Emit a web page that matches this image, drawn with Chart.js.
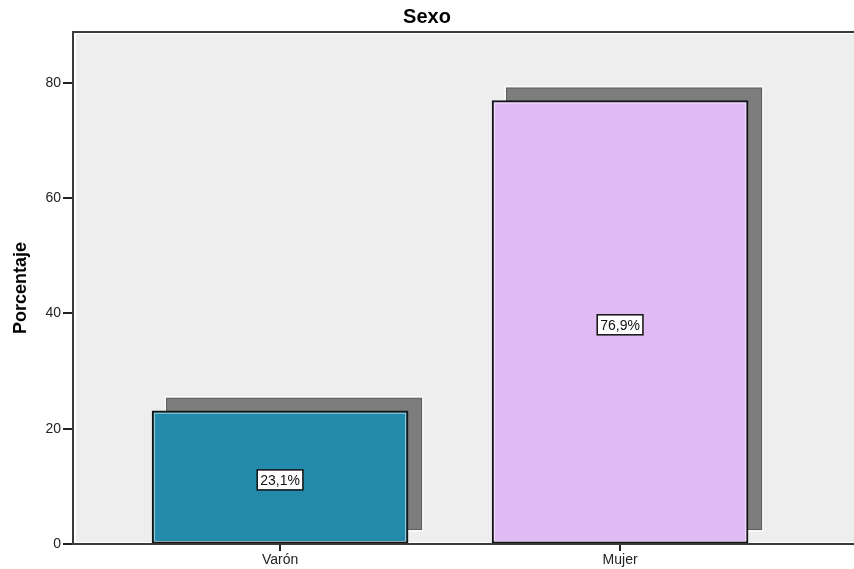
<!DOCTYPE html>
<html>
<head>
<meta charset="utf-8">
<script src="https://cdn.jsdelivr.net/npm/chart.js@4/dist/chart.umd.min.js"></script>
<style>
  html, body { margin: 0; padding: 0; background: #ffffff; overflow: hidden; }
  #wrap { width: 854px; height: 569px; }
</style>
</head>
<body>
<div id="wrap"><canvas id="sexoChart" width="854" height="569"></canvas></div>
<script>
// datos
const categories = ["Varón", "Mujer"];
const percentages = [23.1, 76.9];
const pctLabels = ["23,1%", "76,9%"];
const yTicks = [0, 20, 40, 60, 80];
const barColors = ["#248aab", "#dfbaf3"];

const FONT = "'Liberation Sans', Arial, sans-serif";

// fondo gris del area y borde superior
const plotBg = {
    id: 'plotBg',
    beforeDraw(chart) {
        const { ctx, chartArea: a } = chart;
        ctx.save();
        ctx.fillStyle = "#eeeeee";
        ctx.fillRect(a.left + 3, a.top + 2, a.right - a.left - 3, a.bottom - a.top - 4);
        ctx.strokeStyle = "#3a3a3a";
        ctx.lineWidth = 2;
        ctx.beginPath();
        ctx.moveTo(a.left, a.top);
        ctx.lineTo(a.right, a.top);
        ctx.stroke();
        ctx.restore();
    },
    afterDraw(chart) {
        // marcas del eje x
        const { ctx, chartArea: a } = chart;
        const xs = chart.scales.x;
        ctx.save();
        ctx.strokeStyle = "#222222";
        ctx.lineWidth = 2;
        categories.forEach((c, i) => {
            const px = Math.round(xs.getPixelForValue(i + 1));
            ctx.beginPath();
            ctx.moveTo(px, a.bottom + 1);
            ctx.lineTo(px, a.bottom + 7);
            ctx.stroke();
        });
        ctx.restore();
    }
};

// sombra gris detras de cada barra
const barShadow = {
    id: 'barShadow',
    beforeDatasetsDraw(chart) {
        const { ctx } = chart;
        chart.getDatasetMeta(0).data.forEach(bar => {
            const w = bar.width;
            const x0 = bar.x - w / 2 + 14;
            const y0 = bar.y - 13;
            const h = bar.base - 13 - y0;
            ctx.save();
            ctx.fillStyle = "#7d7d7d";
            ctx.fillRect(x0, y0, w, h);
            ctx.strokeStyle = "#fafafa";
            ctx.lineWidth = 1.5;
            ctx.strokeRect(x0 - 1, y0 - 1, w + 2, h + 2);
            ctx.strokeStyle = "#5e5e5e";
            ctx.lineWidth = 1;
            ctx.strokeRect(x0 + 0.5, y0 + 0.5, w - 1, h - 1);
            ctx.restore();
        });
    },
    afterDatasetsDraw(chart) {
        const { ctx } = chart;
        chart.getDatasetMeta(0).data.forEach((bar, i) => {
            const w = bar.width;
            ctx.save();
            // linea clara interior
            ctx.strokeStyle = "rgba(255,255,255,0.55)";
            ctx.lineWidth = 1;
            ctx.strokeRect(bar.x - w / 2 + 2.5, bar.y + 2.5, w - 5, bar.base - bar.y - 4);
            // etiqueta
            const cy = (bar.y + bar.base) / 2 + 3;
            ctx.font = "14px " + FONT;
            const tw = ctx.measureText(pctLabels[i]).width;
            const bw = tw + 6, bh = 20;
            ctx.fillStyle = "#ffffff";
            ctx.fillRect(bar.x - bw / 2, cy - bh / 2, bw, bh);
            ctx.strokeStyle = "#111111";
            ctx.lineWidth = 1.5;
            ctx.strokeRect(bar.x - bw / 2, cy - bh / 2, bw, bh);
            ctx.fillStyle = "#111111";
            ctx.textAlign = "center";
            ctx.textBaseline = "middle";
            ctx.fillText(pctLabels[i], bar.x, cy + 1);
            ctx.restore();
        });
    }
};

const ctx = document.getElementById("sexoChart");

new Chart(ctx, {
    type: "bar",
    data: {
        labels: categories,
        datasets: [{
            label: "Porcentaje",
            data: percentages.map((v, i) => ({ x: i + 1, y: v })),
            backgroundColor: barColors,
            borderColor: "#151515",
            borderWidth: 2,
            borderSkipped: false,
            barThickness: 256
        }]
    },
    options: {
        responsive: false,
        animation: false,
        layout: { padding: { left: 0, right: 0, top: 0, bottom: 0 } },
        plugins: {
            legend: { display: false },
            tooltip: { enabled: false },
            title: {
                display: true,
                text: "Sexo",
                color: "#000000",
                font: { family: FONT, size: 20, weight: "bold" },
                padding: { top: 5, bottom: 3 }
            }
        },
        scales: {
            x: {
                type: "linear",
                offset: false,
                min: 0.391,
                max: 2.688,
                afterBuildTicks(scale) {
                    scale.ticks = categories.map((c, i) => ({ value: i + 1 }));
                },
                afterFit(scale) { scale.height = 25; },
                grid: { offset: false, drawOnChartArea: false, tickLength: 7, color: "#222222", lineWidth: 2 },
                border: { display: true, color: "#3a3a3a", width: 2 },
                ticks: {
                    color: "#222222",
                    padding: 1,
                    font: { family: FONT, size: 14 },
                    callback: v => categories[v - 1]
                }
            },
            y: {
                min: 0,
                max: 88.8,
                afterBuildTicks(scale) {
                    scale.ticks = yTicks.map(v => ({ value: v }));
                },
                afterFit(scale) { scale.width = 73; },
                grid: { drawOnChartArea: false, tickLength: 10, color: "#222222", lineWidth: 2 },
                border: { display: true, color: "#3a3a3a", width: 2 },
                ticks: {
                    color: "#222222",
                    padding: 2,
                    font: { family: FONT, size: 14 }
                },
                title: {
                    display: true,
                    text: "Porcentaje",
                    color: "#000000",
                    font: { family: FONT, size: 18, weight: "bold" },
                    padding: { top: 10, bottom: 0 }
                }
            }
        }
    },
    plugins: [plotBg, barShadow]
});
</script>
</body>
</html>
